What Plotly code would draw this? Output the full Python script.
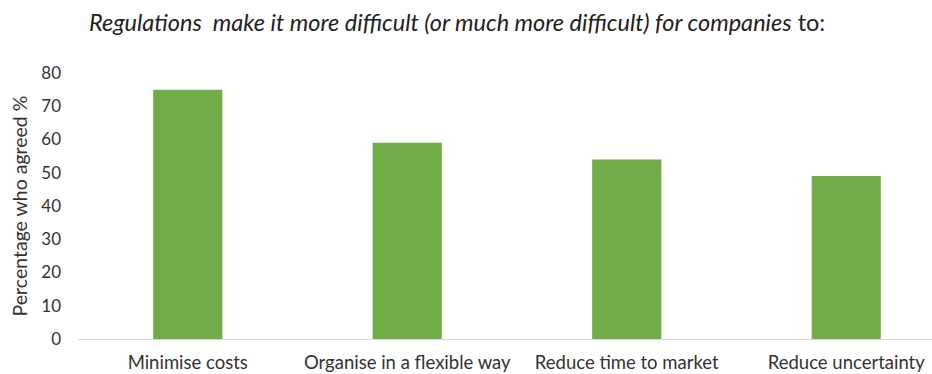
import plotly.graph_objects as go

categories = ["Minimise costs", "Organise in a flexible way", "Reduce time to market", "Reduce uncertainty"]
values = [75, 59, 54, 49]
y_ticks = [0, 10, 20, 30, 40, 50, 60, 70, 80]

fig = go.Figure(go.Bar(
    x=list(range(len(categories))), y=values,
    marker=dict(color="#70AD47", line=dict(width=0)),
    width=0.315,
))

fig.update_layout(
    width=932, height=374,
    margin=dict(l=78, r=0, t=73, b=35),
    paper_bgcolor="white", plot_bgcolor="white",
    showlegend=False,
    title=dict(
        text="<i>Regulations  make it more difficult (or much more difficult) for companies</i> to:",
        x=89/932, xanchor="left", xref="container", y=1 - 23/374, yanchor="middle", yref="container",
        font=dict(family="Lato", size=23.5, color="#222222"),
    ),
    font=dict(family="Lato", color="#404040"),
)
fig.update_xaxes(
    range=[-0.5, -0.5 + (932 - 78) / 219.5],
    tickvals=list(range(len(categories))), ticktext=categories,
    showline=True, linecolor="#D9D9D9", linewidth=1,
    showgrid=False, zeroline=False, ticks="",
    tickfont=dict(family="Lato", size=18.5, color="#333333"),
    ticklabelstandoff=7,
)
fig.update_yaxes(
    range=[0, 80], tickvals=y_ticks,
    showgrid=False, zeroline=False, showline=False, ticks="",
    tickfont=dict(family="Lato", size=17, color="#333333"),
    ticklabelstandoff=16,
    title=dict(text="Percentage who agreed %", font=dict(family="Lato", size=19.5, color="#333333"), standoff=8),
)

fig.write_html("out.html")
